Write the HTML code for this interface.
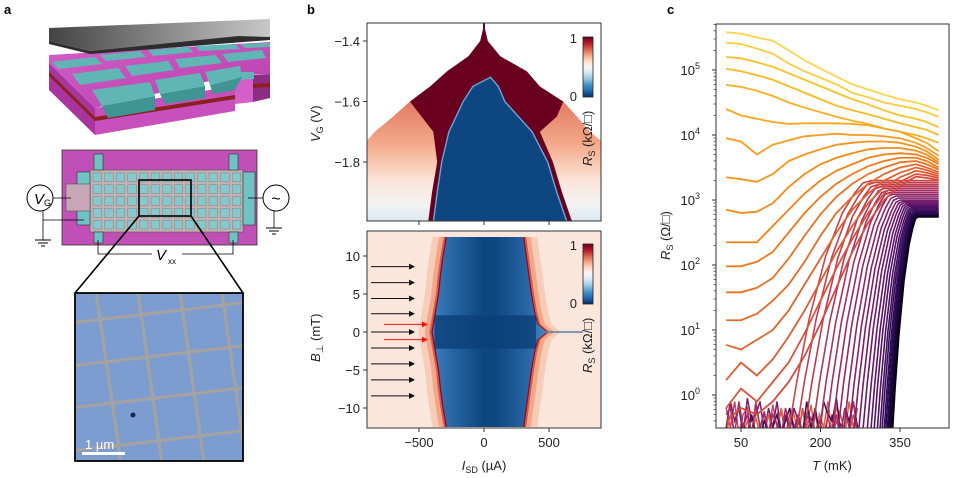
<!DOCTYPE html>
<html><head><meta charset="utf-8"><style>
html,body{margin:0;padding:0;background:#fff;}
svg{display:block;font-family:"Liberation Sans","DejaVu Sans",sans-serif;}
</style></head><body>
<svg id="fig" width="953" height="478" viewBox="0 0 953 478" xmlns="http://www.w3.org/2000/svg">
<defs>
<linearGradient id="rdbu" x1="0" y1="0" x2="0" y2="1">
<stop offset="0" stop-color="#67001f"/><stop offset="0.1" stop-color="#b2182b"/><stop offset="0.2" stop-color="#d6604d"/><stop offset="0.3" stop-color="#f4a582"/><stop offset="0.4" stop-color="#fddbc7"/><stop offset="0.5" stop-color="#f7f7f7"/><stop offset="0.6" stop-color="#d1e5f0"/><stop offset="0.7" stop-color="#92c5de"/><stop offset="0.8" stop-color="#4393c3"/><stop offset="0.9" stop-color="#2166ac"/><stop offset="1" stop-color="#053061"/>
</linearGradient>
<linearGradient id="pale" x1="0" y1="0" x2="0" y2="1">
<stop offset="0" stop-color="#e27a62"/><stop offset="0.35" stop-color="#f4a989"/><stop offset="0.65" stop-color="#fbe4d8"/><stop offset="0.85" stop-color="#f3f3f3"/><stop offset="1" stop-color="#d8e7f0"/>
</linearGradient>
<linearGradient id="blueH" x1="0" y1="0" x2="1" y2="0">
<stop offset="0" stop-color="#3f7fbd"/><stop offset="0.15" stop-color="#2a68a8"/><stop offset="0.45" stop-color="#0e467f"/><stop offset="0.55" stop-color="#0e467f"/><stop offset="0.85" stop-color="#2a68a8"/><stop offset="1" stop-color="#4a8ac4"/>
</linearGradient>
<linearGradient id="plate" x1="0" y1="0" x2="1" y2="0">
<stop offset="0" stop-color="#444"/><stop offset="1" stop-color="#c8c8c8"/>
</linearGradient>
<linearGradient id="slabTop" x1="0" y1="0" x2="1" y2="1">
<stop offset="0" stop-color="#d45fc8"/><stop offset="1" stop-color="#b63eab"/>
</linearGradient>
<clipPath id="clipTop"><rect x="367" y="23" width="234" height="198"/></clipPath>
<clipPath id="clipBot"><rect x="367" y="231" width="234" height="197"/></clipPath>
<clipPath id="clipC"><rect x="716" y="24" width="233" height="404"/></clipPath>
<clipPath id="clipInset"><rect x="75" y="293" width="168" height="168"/></clipPath>
<marker id="ahk" markerWidth="6" markerHeight="6" refX="5" refY="3" orient="auto"><path d="M0,0 L6,3 L0,6 z" fill="#111"/></marker>
<marker id="ahr" markerWidth="6" markerHeight="6" refX="5" refY="3" orient="auto"><path d="M0,0 L6,3 L0,6 z" fill="#f21010"/></marker>
</defs>

<text x="4" y="14" font-size="13" font-weight="bold">a</text>
<text x="307" y="14" font-size="13" font-weight="bold">b</text>
<text x="667" y="14" font-size="13" font-weight="bold">c</text>

<g>
  <polygon points="49,63 95,108 95,135 49,90" fill="#a8349d"/>
  <polygon points="95,108 235,86 235,111 95,135" fill="#c850bc"/>
  <polygon points="49,72 95,117 95,121 49,76" fill="#8c1f1f"/>
  <polygon points="95,117 235,95 235,99 95,121" fill="#8c1f1f"/>
  <polygon points="235,75 253,75 253,102 235,104" fill="#d35fc7"/>
  <polygon points="253,75 270,74 270,98 253,102" fill="#8e2c84"/>
  <polygon points="253,84 270,83 270,87 253,88" fill="#8c1f1f"/>
  <polygon points="49,55 270,42 270,74 235,75 95,108 49,63" fill="url(#slabTop)"/>
  <g fill="#5fb6b4">
    <polygon points="92,90 150,82 155,96 102,106"/>
    <polygon points="155,80 200,73 205,86 160,94"/>
    <polygon points="205,72 240,66 242,77 210,85"/>
    <polygon points="72,74 118,68 126,78 80,85"/>
    <polygon points="125,66 168,61 174,70 132,76"/>
    <polygon points="175,59 216,55 222,63 180,68"/>
    <polygon points="222,54 262,50 266,58 228,62"/>
    <polygon points="52,62 95,57 102,64 58,69"/>
    <polygon points="100,55 140,51 146,57 106,61"/>
    <polygon points="148,50 188,47 193,52 153,56"/>
    <polygon points="195,46 235,44 240,49 200,51"/>
    <polygon points="240,44 270,43 270,47 245,48"/>
    <polygon points="236,72 254,72 254,79 237,80"/>
  </g>
  <g fill="#3f9593">
    <polygon points="102,106 155,96 155,110 108,118"/>
    <polygon points="160,94 205,86 205,98 165,104"/>
    <polygon points="210,85 242,77 235,90 213,94"/>
  </g>
  <polygon points="49,28 270,19 270,37 238,36 90,51 49,41" fill="url(#plate)"/>
  <polygon points="49,41 90,51 238,36 270,37 270,40 90,54 49,44" fill="#2d2d2d"/>
</g>

<g>
  <rect x="62" y="150" width="195" height="95" fill="#c04fb6" stroke="#333" stroke-width="0.8"/>
  <rect x="90" y="170" width="153" height="62" fill="#c2b1b3" stroke="#555" stroke-width="0.6"/>
  <rect x="94" y="154" width="9" height="16" fill="#6fc3c3" stroke="#333" stroke-width="0.6"/>
  <rect x="229" y="154" width="9" height="16" fill="#6fc3c3" stroke="#333" stroke-width="0.6"/>
  <rect x="94" y="232" width="9" height="11" fill="#6fc3c3" stroke="#333" stroke-width="0.6"/>
  <rect x="229" y="232" width="9" height="11" fill="#6fc3c3" stroke="#333" stroke-width="0.6"/>
  <rect x="77" y="172" width="13" height="53" fill="#6fc3c3" stroke="#333" stroke-width="0.6"/>
  <rect x="66" y="184" width="24" height="27" fill="#c9a6b7" stroke="#555" stroke-width="0.6"/>
  <rect x="243" y="172" width="12" height="53" fill="#6fc3c3" stroke="#333" stroke-width="0.6"/>
  <g id="cells"></g>
  <rect x="139" y="180" width="52" height="36" fill="none" stroke="#000" stroke-width="1.6"/>
  <circle cx="40" cy="198" r="13" fill="#fff" stroke="#000" stroke-width="1"/>
  <text x="34" y="204" font-size="15" font-style="italic">V</text><text x="44" y="206" font-size="9">G</text>
  <line x1="53" y1="198" x2="71" y2="198" stroke="#000" stroke-width="0.8"/>
  <line x1="43" y1="211" x2="43" y2="240" stroke="#000" stroke-width="0.8"/>
  <line x1="43" y1="220" x2="84" y2="220" stroke="#000" stroke-width="0.8"/>
  <line x1="35" y1="240" x2="51" y2="240" stroke="#000"/><line x1="38" y1="243" x2="48" y2="243" stroke="#000"/><line x1="41" y1="246" x2="45" y2="246" stroke="#000"/>
  <circle cx="276" cy="198" r="13" fill="#fff" stroke="#000" stroke-width="1"/>
  <text x="276" y="204" font-size="16" text-anchor="middle">~</text>
  <line x1="248" y1="198" x2="263" y2="198" stroke="#000" stroke-width="0.8"/>
  <line x1="274" y1="211" x2="274" y2="228" stroke="#000" stroke-width="0.8"/>
  <line x1="266" y1="228" x2="282" y2="228" stroke="#000"/><line x1="269" y1="231" x2="279" y2="231" stroke="#000"/><line x1="272" y1="234" x2="276" y2="234" stroke="#000"/>
  <polyline points="98,240 98,254 152,254" fill="none" stroke="#000" stroke-width="0.8"/>
  <polyline points="233,240 233,254 182,254" fill="none" stroke="#000" stroke-width="0.8"/>
  <text x="156" y="260" font-size="15" font-style="italic">V</text><text x="168" y="264" font-size="8">xx</text>
  <line x1="139" y1="216" x2="75" y2="293" stroke="#000" stroke-width="1.6"/>
  <line x1="191" y1="216" x2="243" y2="293" stroke="#000" stroke-width="1.6"/>
</g>

<g>
  <g clip-path="url(#clipInset)">
    <rect x="75" y="293" width="168" height="168" fill="#7d9ccf"/>
    <g stroke="#a3a3a3" stroke-width="3.2" fill="none">
      <line x1="95" y1="285" x2="122" y2="470"/>
      <line x1="137" y1="285" x2="163" y2="470"/>
      <line x1="179" y1="285" x2="205" y2="470"/>
      <line x1="221" y1="285" x2="247" y2="470"/>
      <line x1="70" y1="323" x2="250" y2="302"/>
      <line x1="70" y1="366" x2="250" y2="345"/>
      <line x1="70" y1="408" x2="250" y2="387"/>
      <line x1="70" y1="451" x2="250" y2="430"/>
    </g>
    <circle cx="133" cy="415" r="2.5" fill="#1c2a5a"/>
  </g>
  <rect x="75" y="293" width="168" height="168" fill="none" stroke="#000" stroke-width="1.8"/>
  <rect x="82" y="452" width="43" height="3" fill="#fff"/>
  <text x="85" y="449" font-size="13" fill="#fff">1 µm</text>
</g>

<g id="panelB"></g>
<g id="panelC"></g>
</svg>

<script>
// ---------- Panel b data ----------
const vgLevels   = [-1.345, -1.40, -1.45, -1.50, -1.55, -1.60, -1.65, -1.70, -1.73, -2.0];
const tentLeft   = [0, -30, -120, -285, -415, -570, -700, -840, -900, -900];
const tentRight  = [0, 30, 125, 330, 430, 610, 715, 815, 900, 900];
const domeVG     = [-1.52, -1.55, -1.60, -1.70, -1.80, -1.90, -2.0];
const domeLeft   = [50, -85, -160, -270, -325, -360, -390];
const domeRight  = [50, 110, 160, 370, 490, 560, 640];
const paleVG     = [-1.60, -1.65, -1.70, -1.80, -1.90, -2.0];
const darkLeft   = [-570, -480, -390, -360, -400, -430];
const darkRight  = [610, 560, 430, 530, 600, 680];
const bField     = [12.5, 10, 7.5, 5, 2.5, 1, 0, -1, -2.5, -5, -7.5, -10, -12.5];
const edgeLeft   = [-285, -310, -330, -345, -370, -385, -395, -385, -370, -345, -330, -310, -285];
const edgeRight  = [300, 320, 340, 360, 385, 410, 480, 410, 385, 360, 340, 320, 300];
const isdTicks   = [-500, 0, 500];
const vgTicks    = [-1.4, -1.6, -1.8];
const bTicks     = [10, 5, 0, -5, -10];
const arrowB     = [8.6, 6.5, 4.4, 2.4, 0, -2.1, -4.2, -6.3, -8.4];
const redArrowB  = [1.0, -1.0];

const NS = "http://www.w3.org/2000/svg";
function mk(tag, attrs, parent){ const e=document.createElementNS(NS,tag); for(const k in attrs) e.setAttribute(k,attrs[k]); parent.appendChild(e); return e; }
const xI = v => 484 + v*0.13;
const yV = v => 41 + (-1.4 - v)/0.2*60.5;
const yB = v => 332 - v*7.6;

const B = document.getElementById('panelB');
const gt = mk('g',{'clip-path':'url(#clipTop)'},B);


mk('rect',{x:367,y:23,width:234,height:198,fill:'#fff'},gt);
let pts=[];
vgLevels.forEach((v,i)=>pts.push(xI(tentLeft[i])+','+yV(v)));
for(let i=vgLevels.length-1;i>=0;i--) pts.push(xI(tentRight[i])+','+yV(vgLevels[i]));
const tent = mk('polygon',{points:pts.join(' '),fill:'#6a0020'},gt);


let pl=[xI(-900)+','+yV(-1.60)];
paleVG.forEach((v,i)=>pl.push(xI(darkLeft[i])+','+yV(v)));
pl.push(xI(-900)+','+yV(-2.0));
const paleL = mk('polygon',{points:pl.join(' '),fill:'url(#pale)'},gt);


let pr=[xI(900)+','+yV(-1.60)];
paleVG.forEach((v,i)=>pr.push(xI(darkRight[i])+','+yV(v)));
pr.push(xI(900)+','+yV(-2.0));
const paleR = mk('polygon',{points:pr.join(' '),fill:'url(#pale)'},gt);


let wl=[xI(-900)+','+yV(-1.3)];
vgLevels.forEach((v,i)=>{ if(v>=-1.73) wl.push(xI(tentLeft[i])+','+yV(v)); });
wl.push(xI(-900)+','+yV(-1.73));
mk('polygon',{points:wl.join(' '),fill:'#fff'},gt);
let wr=[xI(900)+','+yV(-1.3)];
vgLevels.forEach((v,i)=>{ if(v>=-1.73) wr.push(xI(tentRight[i])+','+yV(v)); });
wr.push(xI(900)+','+yV(-1.73));
mk('polygon',{points:wr.join(' '),fill:'#fff'},gt);
mk('rect',{x:483,y:23,width:2,height:14,fill:'#6a0020'},gt);
let dp=[];
domeVG.forEach((v,i)=>dp.push(xI(domeLeft[i])+','+yV(v)));
for(let i=domeVG.length-1;i>=0;i--) dp.push(xI(domeRight[i])+','+yV(domeVG[i]));
const dome = mk('polygon',{points:dp.join(' '),fill:'#0d4680',stroke:'#6aa6d6','stroke-width':1.4},gt);



const gb = mk('g',{'clip-path':'url(#clipBot)'},B);


mk('rect',{x:367,y:231,width:234,height:197,fill:'#fbe6dc'},gb);
const bandOff=[[-110,'#f8cdb8'],[-60,'#f2a78b'],[-25,'#d95a48'],[-10,'#8a0a26']];
bandOff.forEach(([off,col])=>{
  let p=[];
  bField.forEach((b,i)=>p.push(xI(edgeLeft[i]+off)+','+yB(b)));
  for(let i=bField.length-1;i>=0;i--) p.push(xI(edgeRight[i]-off)+','+yB(bField[i]));
  mk('polygon',{points:p.join(' '),fill:col},gb);
});
let bp=[];
bField.forEach((b,i)=>bp.push(xI(edgeLeft[i])+','+yB(b)));
for(let i=bField.length-1;i>=0;i--) bp.push(xI(edgeRight[i])+','+yB(bField[i]));
const bBlue = mk('polygon',{points:bp.join(' '),fill:'url(#blueH)'},gb);


mk('rect',{x:xI(-380),y:yB(2.2),width:xI(400)-xI(-380),height:yB(-2.2)-yB(2.2),fill:'#0b3f78',opacity:0.8},gb);
mk('line',{x1:xI(470),y1:yB(0),x2:583,y2:yB(0),stroke:'#5a7ea6','stroke-width':1.5},gb);
arrowB.forEach(b=>{
  const a=mk('line',{x1:371,y1:yB(b),x2:414,y2:yB(b),stroke:'#111','stroke-width':1,'marker-end':'url(#ahk)'},B);
  
  
});
redArrowB.forEach(b=>{
  const a=mk('line',{x1:384,y1:yB(b),x2:427,y2:yB(b),stroke:'#f21010','stroke-width':1,'marker-end':'url(#ahr)'},B);
  
  
});

function frame(y0,h,name){
  const r=mk('rect',{x:367,y:y0,width:234,height:h,fill:'none',stroke:'#333','stroke-width':1},B);
  
  
}
frame(23,198,'top-axes-frame'); frame(231,197,'bottom-axes-frame');
isdTicks.forEach(t=>{
  mk('line',{x1:xI(t),y1:221,x2:xI(t),y2:225,stroke:'#333'},B);
  mk('line',{x1:xI(t),y1:428,x2:xI(t),y2:432,stroke:'#333'},B);
  const tx=mk('text',{x:xI(t),y:447,'font-size':13,'text-anchor':'middle',fill:'#222'},B);
  tx.textContent=(t<0?'\u2212':'')+Math.abs(t);
  
  
});
vgTicks.forEach(t=>{
  mk('line',{x1:363,y1:yV(t),x2:367,y2:yV(t),stroke:'#333'},B);
  const tx=mk('text',{x:360,y:yV(t)+5,'font-size':13,'text-anchor':'end',fill:'#222'},B);
  tx.textContent='\u2212'+Math.abs(t).toFixed(1);
  
  
});
bTicks.forEach(t=>{
  mk('line',{x1:363,y1:yB(t),x2:367,y2:yB(t),stroke:'#333'},B);
  const tx=mk('text',{x:360,y:yB(t)+5,'font-size':13,'text-anchor':'end',fill:'#222'},B);
  tx.textContent=(t<0?'\u2212':'')+Math.abs(t);
  
  
});
function html(parent, s, attrs, name){ const t=mk('text',attrs,parent); t.innerHTML=s;   return t; }
html(B,'<tspan font-style="italic">V</tspan><tspan font-size="9" dy="3">G</tspan><tspan dy="-3"> (V)</tspan>',{x:0,y:0,'font-size':13,transform:'translate(320,142) rotate(-90)',fill:'#222'},'vg-axis-title');
html(B,'<tspan font-style="italic">B</tspan><tspan font-size="10" dy="3">⊥</tspan><tspan dy="-3"> (mT)</tspan>',{x:0,y:0,'font-size':13,transform:'translate(320,362) rotate(-90)',fill:'#222'},'b-axis-title');
html(B,'<tspan font-style="italic">I</tspan><tspan font-size="9" dy="3">SD</tspan><tspan dy="-3"> (µA)</tspan>',{x:484,y:470,'font-size':13,'text-anchor':'middle',fill:'#222'},'isd-axis-title');
[[37,'top'],[244,'bottom']].forEach(([y0,n])=>{
  const cb=mk('rect',{x:583,y:y0,width:10,height:60,fill:'url(#rdbu)',stroke:'#222','stroke-width':0.8},B);
  
  
  html(B,'1',{x:577,y:y0+6,'font-size':13,'text-anchor':'end',fill:'#222'},'colorbar-max-label');
  html(B,'0',{x:577,y:y0+64,'font-size':13,'text-anchor':'end',fill:'#222'},'colorbar-min-label');
  html(B,'<tspan font-style="italic">R</tspan><tspan font-size="9" dy="3">S</tspan><tspan dy="-3"> (kΩ/□)</tspan>',{x:0,y:0,'font-size':13,transform:`translate(592,${y0+129}) rotate(-90)`,fill:'#222'},'colorbar-title');
});

const cells=document.getElementById('cells');
for(let c=0;c<13;c++) for(let r=0;r<5;r++){
  mk('rect',{x:93+c*11.6,y:173+r*11.8,width:8.6,height:8.8,fill:'#86c9cc',stroke:'#777','stroke-width':0.4},cells);
}

// ---------- Panel c data ----------
const tempGrid = [22, 50, 80, 110, 140, 170, 200, 230, 260, 290, 320, 350, 380, 400, 423];
const curve01 = [5.58,5.56,5.50,5.45,5.30,5.15,5.02,4.90,4.78,4.70,4.62,4.55,4.50,4.45,4.38];
const curve02 = [5.42,5.40,5.33,5.25,5.10,4.98,4.88,4.78,4.65,4.58,4.50,4.45,4.40,4.35,4.28];
const curve03 = [5.20,5.18,5.12,5.05,4.95,4.85,4.75,4.65,4.55,4.47,4.38,4.30,4.25,4.20,4.12];
const curve04 = [5.02,4.98,4.92,4.85,4.75,4.65,4.55,4.45,4.38,4.32,4.25,4.18,4.12,4.08,4.00];
const curve05 = [4.77,4.74,4.68,4.60,4.50,4.42,4.35,4.28,4.22,4.17,4.10,4.05,4.00,3.95,3.88];
const curve06 = [4.40,4.30,4.25,4.20,4.17,4.18,4.18,4.18,4.17,4.15,4.10,4.05,3.95,3.88,3.75];
const curve07 = [3.95,3.90,3.70,3.85,3.92,3.98,4.00,4.02,4.00,4.00,3.98,3.95,3.88,3.80,3.68];
const curve08 = [3.35,3.32,3.28,3.40,3.60,3.70,3.78,3.85,3.88,3.90,3.90,3.88,3.82,3.75,3.62];
const curve09 = [2.85,2.80,2.82,2.95,3.20,3.40,3.55,3.65,3.72,3.78,3.80,3.80,3.76,3.70,3.58];
const curve10 = [2.35,2.35,2.35,2.60,2.85,3.10,3.30,3.45,3.55,3.65,3.70,3.72,3.70,3.65,3.55];
const curve11 = [1.98,1.98,2.05,2.20,2.50,2.80,3.05,3.25,3.40,3.52,3.60,3.65,3.65,3.60,3.50];
const curve12 = [1.58,1.58,1.65,1.80,2.10,2.45,2.78,3.05,3.25,3.40,3.50,3.58,3.60,3.55,3.47];
const curve13 = [1.15,1.15,1.25,1.45,1.70,2.05,2.45,2.80,3.05,3.25,3.40,3.50,3.55,3.50,3.43];
const curve14 = [0.77,0.70,0.85,1.00,1.30,1.70,2.10,2.50,2.85,3.10,3.30,3.42,3.50,3.46,3.40];
const curve15 = [0.23,0.50,0.30,0.55,0.90,1.30,1.75,2.20,2.60,2.95,3.20,3.35,3.45,3.42,3.37];
const curve16 = [-0.2,0.10,-0.1,0.20,0.50,0.95,1.45,1.95,2.40,2.80,3.10,3.28,3.40,3.38,3.34];
const curve17 = [-0.4,-0.2,-0.3,-0.1,0.20,0.60,1.10,1.65,2.20,2.65,3.00,3.22,3.36,3.34,3.31];
const insulatingCurves = [curve01,curve02,curve03,curve04,curve05,curve06,curve07,curve08,curve09,curve10,curve11,curve12,curve13,curve14,curve15,curve16,curve17];
const denseOnset = [140,155,170,185,198,210,222,233,244,254,263,272,280,288,295,301,307,312,316,320,323,326,328,330,332,334,335,336];
const denseEnd   = [3.30,3.27,3.24,3.21,3.18,3.15,3.12,3.09,3.06,3.03,3.00,2.98,2.96,2.94,2.92,2.90,2.88,2.86,2.84,2.82,2.80,2.79,2.78,2.77,2.76,2.75,2.75,2.74];
const profileX = [0, 0.1, 0.25, 0.45, 0.65, 0.8, 0.9, 1.0];
const profileY = [0, 0.2, 0.45, 0.7, 0.87, 0.95, 0.99, 1.0];
const floorLog = -0.55;
const yTicksLog = [0,1,2,3,4,5];
const xTicksT = [50, 200, 350];

const xT = t => 741 + (t-50)*0.53;
const yR = l => 395 - l*65;
const C = document.getElementById('panelC');
const gc = mk('g',{'clip-path':'url(#clipC)'},C);



const inferno=[[0,0,4],[40,11,84],[101,21,110],[159,42,99],[212,72,66],[245,125,21],[250,193,39],[252,255,164]];
function cmap(f){ f=Math.max(0,Math.min(1,f)); const p=f*(inferno.length-1); const i=Math.min(inferno.length-2,Math.floor(p)); const r=p-i; const a=inferno[i],b=inferno[i+1]; return `rgb(${Math.round(a[0]+(b[0]-a[0])*r)},${Math.round(a[1]+(b[1]-a[1])*r)},${Math.round(a[2]+(b[2]-a[2])*r)})`; }

// noise floor traces
const noiseT = [22,30,38,46,54,62,70,78,86,94,102,110,118,126,134,142,150,158,166,174,182,190,198,206,214,222,230,238,246,254,262,270];
const noiseA = [-0.2,-0.5,-0.1,-0.6,-0.3,-0.2,-0.6,-0.1,-0.5,-0.3,-0.6,-0.15,-0.5,-0.25,-0.6,-0.3,-0.45,-0.6,-0.2,-0.5,-0.6,-0.3,-0.6,-0.6,-0.35,-0.6,-0.4,-0.6,-0.5,-0.6,-0.3,-0.6];
const noiseB = [-0.5,-0.1,-0.4,-0.2,-0.6,-0.05,-0.4,-0.3,-0.1,-0.6,-0.2,-0.5,-0.1,-0.6,-0.3,-0.55,-0.2,-0.4,-0.6,-0.3,-0.5,-0.6,-0.4,-0.6,-0.6,-0.3,-0.6,-0.45,-0.6,-0.6,-0.6,-0.6];
[[noiseA,'#c94559'],[noiseB,'#7a1d6c'],[noiseA.slice().reverse(),'#e0603e'],[noiseB.slice().reverse(),'#3a0c5e'],[noiseA.slice(4).concat(noiseA.slice(0,4)),'#a52c60']].forEach(([arr,col])=>{
  const pl=mk('polyline',{points:noiseT.map((t,i)=>`${xT(t)},${yR(arr[i])}`).join(' '),fill:'none',stroke:col,'stroke-width':1.5},gc);
  
  
});
// dense curves
for(let k=denseOnset.length-1;k>=0;k--){
  const on=denseOnset[k], span=423-on;
  const p=[`${xT(22)},${yR(floorLog-0.2)}`,`${xT(on)},${yR(floorLog-0.2)}`];
  profileX.forEach((px,j)=>{ p.push(`${xT(on+px*span*0.55)},${yR(floorLog+(denseEnd[k]-floorLog)*profileY[j])}`); });
  p.push(`${xT(423)},${yR(denseEnd[k])}`);
  const line=mk('polyline',{points:p.join(' '),fill:'none',stroke:cmap(0.55-0.55*k/(denseOnset.length-1)),'stroke-width':1.6},gc);
  
  
}
insulatingCurves.forEach((c,k)=>{
  const n=insulatingCurves.length;
  const line=mk('polyline',{points:tempGrid.map((t,i)=>`${xT(t)},${yR(c[i])}`).join(' '),fill:'none',stroke:cmap(0.9-0.32*k/(n-1)),'stroke-width':1.8},gc);
  
  
});

const fr=mk('rect',{x:716,y:24,width:233,height:404,fill:'none',stroke:'#333','stroke-width':1},C);


for(let d=-1; d<=5; d++){
  for(let m=2;m<=9;m++){ const l=d+Math.log10(m); const y=yR(l); if(y>24&&y<428) mk('line',{x1:713.5,y1:y,x2:716,y2:y,stroke:'#333','stroke-width':0.7},C); }
}
yTicksLog.forEach(l=>{
  mk('line',{x1:712,y1:yR(l),x2:716,y2:yR(l),stroke:'#333'},C);
  html(C,'10<tspan font-size="9" dy="-6">'+l+'</tspan>',{x:700,y:yR(l)+5,'font-size':13,'text-anchor':'end',fill:'#222'},'y-tick-label');
});
xTicksT.forEach(t=>{
  mk('line',{x1:xT(t),y1:428,x2:xT(t),y2:432,stroke:'#333'},C);
  html(C,String(t),{x:xT(t),y:447,'font-size':13,'text-anchor':'middle',fill:'#222'},'x-tick-label');
});
html(C,'<tspan font-style="italic">R</tspan><tspan font-size="9" dy="3">S</tspan><tspan dy="-3"> (Ω/□)</tspan>',{x:0,y:0,'font-size':13,transform:'translate(670,260) rotate(-90)',fill:'#222'},'y-axis-title');
html(C,'<tspan font-style="italic">T</tspan> (mK)',{x:832,y:470,'font-size':13,'text-anchor':'middle',fill:'#222'},'x-axis-title');
</script>
</body></html>
